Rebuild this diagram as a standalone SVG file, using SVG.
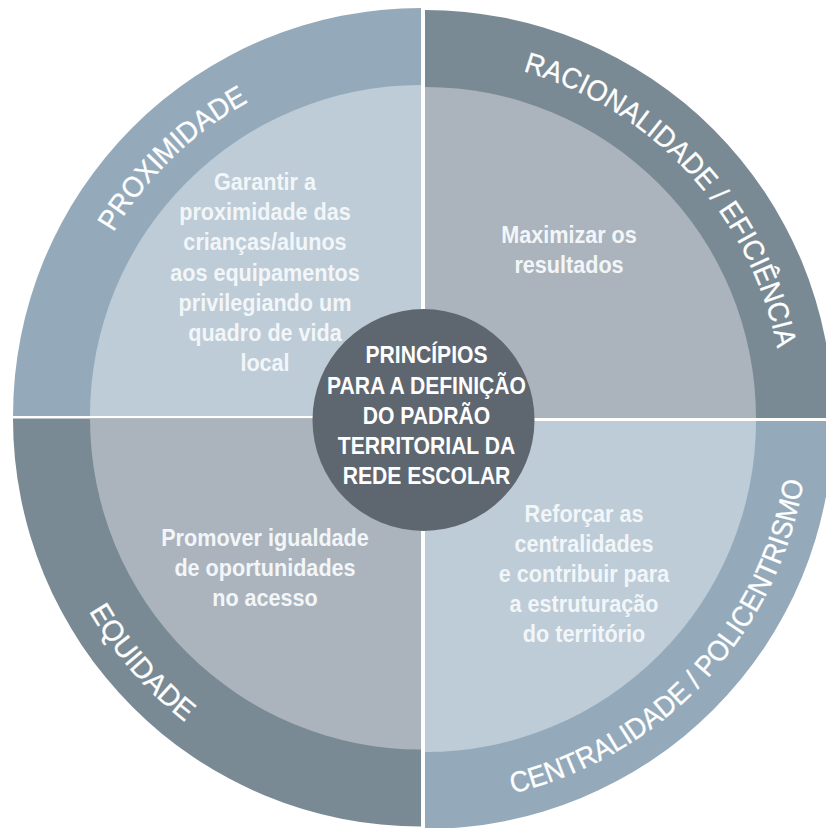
<svg xmlns="http://www.w3.org/2000/svg" width="826" height="828" viewBox="0 0 826 828">
  <style>
    .ring-a { fill: #94aabb; }
    .inner-a { fill: #bdccd7; }
    .ring-b { fill: #798a94; }
    .inner-b { fill: #abb4bd; }
    .hub { fill: #5e666f; }
    .body { font-family: "Liberation Sans", Arial, sans-serif; font-weight: bold; font-size: 24px; fill: #f3f6f8; text-anchor: middle; }
    .hubtext { font-family: "Liberation Sans", Arial, sans-serif; font-weight: bold; font-size: 24px; fill: #ffffff; text-anchor: middle; }
    .label { font-family: "Liberation Sans", Arial, sans-serif; font-size: 29px; fill: #ffffff; stroke: #ffffff; stroke-width: 0.3; text-anchor: middle; }
  </style>
  <defs>
    <!-- baseline arcs for the ring titles -->
    <path id="arc-prox" d="M 72.7 505.3 A 361 361 0 0 1 522.5 71.0" fill="none"/>
    <path id="arc-rac" d="M 284.9 84.5 A 361 361 0 0 1 743.2 584.7" fill="none"/>
    <path id="arc-equi" d="M 58.0 292.3 A 386 386 0 0 0 496.6 796.9" fill="none"/>
    <path id="arc-cent" d="M 272.2 773.3 A 386 386 0 0 0 766.9 242.8" fill="none"/>
  </defs>

  <rect width="826" height="828" fill="#ffffff"/>

  <!-- top-left quadrant -->
  <g id="proximidade">
    <path class="ring-a" d="M 421 416 L 13 416 A 408 408 0 0 1 421 8 Z"/>
    <path class="inner-a" d="M 421 416 L 90 416 A 331 331 0 0 1 421 85 Z"/>
    <text class="label"><textPath href="#arc-prox" startOffset="50%" textLength="190" lengthAdjust="spacingAndGlyphs">PROXIMIDADE</textPath></text>
    <g transform="translate(265 0) scale(0.9 1)">
      <text class="body" x="0" y="190">Garantir a</text>
      <text class="body" x="0" y="220">proximidade das</text>
      <text class="body" x="0" y="250">crianças/alunos</text>
      <text class="body" x="0" y="281">aos equipamentos</text>
      <text class="body" x="0" y="311">privilegiando um</text>
      <text class="body" x="0" y="341">quadro de vida</text>
      <text class="body" x="0" y="371">local</text>
    </g>
  </g>

  <!-- top-right quadrant -->
  <g id="racionalidade">
    <path class="ring-b" d="M 425 418 L 425 10 A 408 408 0 0 1 833 418 Z"/>
    <path class="inner-b" d="M 425 418 L 425 87 A 331 331 0 0 1 756 418 Z"/>
    <text class="label"><textPath href="#arc-rac" startOffset="50%" textLength="396" lengthAdjust="spacingAndGlyphs">RACIONALIDADE / EFICIÊNCIA</textPath></text>
    <g transform="translate(569 0) scale(0.9 1)">
      <text class="body" x="0" y="243">Maximizar os</text>
      <text class="body" x="0" y="273">resultados</text>
    </g>
  </g>

  <!-- bottom-left quadrant -->
  <g id="equidade">
    <path class="ring-b" d="M 421 418.5 L 421 826.5 A 408 408 0 0 1 13 418.5 Z"/>
    <path class="inner-b" d="M 421 418.5 L 421 749.5 A 331 331 0 0 1 90 418.5 Z"/>
    <text class="label"><textPath href="#arc-equi" startOffset="50%" textLength="148" lengthAdjust="spacingAndGlyphs">EQUIDADE</textPath></text>
    <g transform="translate(265 0) scale(0.9 1)">
      <text class="body" x="0" y="546">Promover igualdade</text>
      <text class="body" x="0" y="576">de oportunidades</text>
      <text class="body" x="0" y="606">no acesso</text>
    </g>
  </g>

  <!-- bottom-right quadrant -->
  <g id="centralidade">
    <path class="ring-a" d="M 425 421 L 833 421 A 408 408 0 0 1 425 829 Z"/>
    <path class="inner-a" d="M 425 421 L 756 421 A 331 331 0 0 1 425 752 Z"/>
    <text class="label"><textPath href="#arc-cent" startOffset="50%" textLength="452" lengthAdjust="spacingAndGlyphs">CENTRALIDADE / POLICENTRISMO</textPath></text>
    <g transform="translate(584 0) scale(0.9 1)">
      <text class="body" x="0" y="522">Reforçar as</text>
      <text class="body" x="0" y="552">centralidades</text>
      <text class="body" x="0" y="582">e contribuir para</text>
      <text class="body" x="0" y="612">a estruturação</text>
      <text class="body" x="0" y="642">do território</text>
    </g>
  </g>

  <!-- central hub -->
  <g id="principios">
    <circle class="hub" cx="423.5" cy="420" r="111"/>
    <g transform="translate(426.5 0) scale(0.88 1)">
      <text class="hubtext" x="0" y="363">PRINCÍPIOS</text>
      <text class="hubtext" x="0" y="394">PARA A DEFINIÇÃO</text>
      <text class="hubtext" x="0" y="424">DO PADRÃO</text>
      <text class="hubtext" x="0" y="454">TERRITORIAL DA</text>
      <text class="hubtext" x="0" y="484">REDE ESCOLAR</text>
    </g>
  </g>
</svg>
